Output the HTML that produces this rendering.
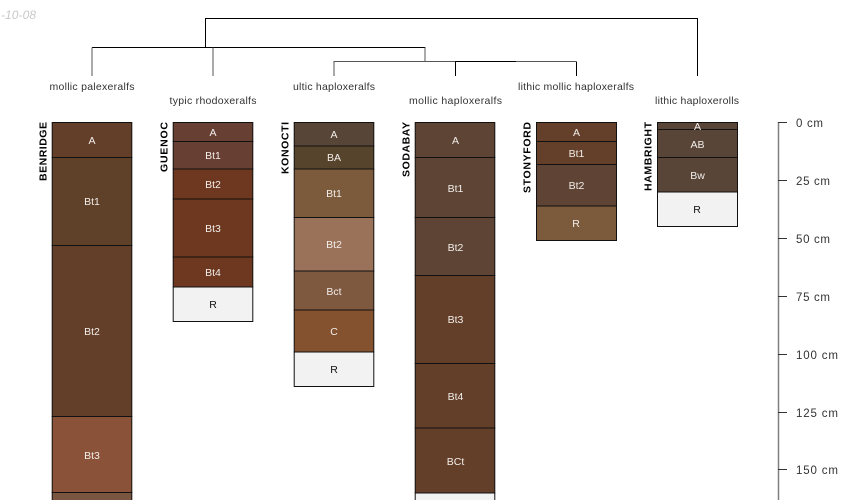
<!DOCTYPE html>
<html><head><meta charset="utf-8"><style>
html,body{margin:0;padding:0;background:#fff;width:850px;height:500px;overflow:hidden}
svg{display:block;font-family:"Liberation Sans",sans-serif}
.h{stroke:#111;stroke-width:1}
.h text{stroke:none}
.t{font-size:10.5px;fill:#f2eeea;text-anchor:middle;stroke:none}
.k{font-size:10.5px;fill:#111;text-anchor:middle;stroke:none}
.l{font-size:10.5px;fill:#333;text-anchor:middle}
.id{font-size:10.5px;font-weight:bold;fill:#000;text-anchor:end}
.s{font-size:11.5px;fill:#333}
.d{stroke:#000;stroke-width:1;fill:none}
.g{stroke:#555;stroke-width:1;fill:none}
</style></head><body>
<svg width="850" height="500" viewBox="0 0 850 500" xmlns="http://www.w3.org/2000/svg">
<text x="36" y="19" text-anchor="end" font-size="12" font-style="italic" fill="#c8c8c8" textLength="62">2021-10-08</text>

<!-- dendrogram -->
<path class="d" d="M205.5 47.5V18.5H697.5V76"/>
<path class="d" d="M92 47.5H425.5"/>
<path class="g" d="M92 47.5V76M213 47.5V76"/>
<path class="g" d="M425 47.5V61.5M334 76V61.5H576"/>
<path class="d" d="M455.5 61.5H516M455.5 61.5V76M576.5 61.5V76"/>

<text class="l" x="92" y="90" textLength="85" lengthAdjust="spacing">mollic palexeralfs</text>
<text class="l" x="213" y="104" textLength="87" lengthAdjust="spacing">typic rhodoxeralfs</text>
<text class="l" x="334" y="90" textLength="82" lengthAdjust="spacing">ultic haploxeralfs</text>
<text class="l" x="455.5" y="104" textLength="93" lengthAdjust="spacing">mollic haploxeralfs</text>
<text class="l" x="576" y="90" textLength="116" lengthAdjust="spacing">lithic mollic haploxeralfs</text>
<text class="l" x="697" y="104" textLength="84" lengthAdjust="spacing">lithic haploxerolls</text>

<!-- BENRIDGE -->
<text class="id" transform="translate(46.5,122) rotate(-90)" textLength="59">BENRIDGE</text>
<g class="h">
<rect x="52.2" y="122.5" width="79.6" height="35" fill="#633f29"/><rect x="52.2" y="157.5" width="79.6" height="88" fill="#5f4029"/>
<rect x="52.2" y="245.5" width="79.6" height="171" fill="#633f29"/><rect x="52.2" y="416.5" width="79.6" height="76" fill="#8a5239"/>
<rect x="52.2" y="492.5" width="79.6" height="20" fill="#7a5640"/>
<text class="t" x="92" y="144">A</text><text class="t" x="92" y="205">Bt1</text><text class="t" x="92" y="335">Bt2</text><text class="t" x="92" y="459">Bt3</text>
</g>

<!-- GUENOC -->
<text class="id" transform="translate(167.5,122) rotate(-90)" textLength="50">GUENOC</text>
<g class="h">
<rect x="173.2" y="122.5" width="79.6" height="19" fill="#683f33"/><rect x="173.2" y="141.5" width="79.6" height="27.5" fill="#683f33"/>
<rect x="173.2" y="169" width="79.6" height="30" fill="#6e3820"/><rect x="173.2" y="199" width="79.6" height="58" fill="#6e3820"/>
<rect x="173.2" y="257" width="79.6" height="30" fill="#6e3820"/><rect x="173.2" y="287" width="79.6" height="34.5" fill="#f2f2f2"/>
<text class="t" x="213" y="136">A</text><text class="t" x="213" y="159">Bt1</text><text class="t" x="213" y="188">Bt2</text><text class="t" x="213" y="232">Bt3</text><text class="t" x="213" y="276">Bt4</text><text class="k" x="213" y="308">R</text>
</g>

<!-- KONOCTI -->
<text class="id" transform="translate(288.5,122) rotate(-90)" textLength="52">KONOCTI</text>
<g class="h">
<rect x="294.2" y="122.5" width="79.6" height="23.5" fill="#574537"/><rect x="294.2" y="146" width="79.6" height="23" fill="#57442c"/>
<rect x="294.2" y="169" width="79.6" height="48.5" fill="#7c5a3c"/><rect x="294.2" y="217.5" width="79.6" height="53.5" fill="#9a725a"/>
<rect x="294.2" y="271" width="79.6" height="39" fill="#7f5840"/><rect x="294.2" y="310" width="79.6" height="42" fill="#855230"/>
<rect x="294.2" y="352" width="79.6" height="34.5" fill="#f2f2f2"/>
<text class="t" x="334" y="138">A</text><text class="t" x="334" y="161">BA</text><text class="t" x="334" y="197">Bt1</text><text class="t" x="334" y="248">Bt2</text><text class="t" x="334" y="295">Bct</text><text class="t" x="334" y="335">C</text><text class="k" x="334" y="373">R</text>
</g>

<!-- SODABAY -->
<text class="id" transform="translate(409.5,122) rotate(-90)" textLength="55">SODABAY</text>
<g class="h">
<rect x="415.2" y="122.5" width="79.6" height="35" fill="#5e4435"/><rect x="415.2" y="157.5" width="79.6" height="60" fill="#5e4435"/>
<rect x="415.2" y="217.5" width="79.6" height="58" fill="#5e4435"/><rect x="415.2" y="275.5" width="79.6" height="88" fill="#633f29"/>
<rect x="415.2" y="363.5" width="79.6" height="64.5" fill="#633f29"/><rect x="415.2" y="428" width="79.6" height="65" fill="#633f29"/>
<rect x="415.2" y="493" width="79.6" height="20" fill="#f2f2f2"/>
<text class="t" x="455.5" y="144">A</text><text class="t" x="455.5" y="192">Bt1</text><text class="t" x="455.5" y="251">Bt2</text><text class="t" x="455.5" y="323">Bt3</text><text class="t" x="455.5" y="400">Bt4</text><text class="t" x="455.5" y="465">BCt</text>
</g>

<!-- STONYFORD -->
<text class="id" transform="translate(530.5,122) rotate(-90)" textLength="71">STONYFORD</text>
<g class="h">
<rect x="536.5" y="122.5" width="80" height="19" fill="#643f29"/><rect x="536.5" y="141.5" width="80" height="23" fill="#643f29"/>
<rect x="536.5" y="164.5" width="80" height="41.5" fill="#5f4334"/><rect x="536.5" y="206" width="80" height="34.5" fill="#7c5a3c"/>
<text class="t" x="576.5" y="136">A</text><text class="t" x="576.5" y="157">Bt1</text><text class="t" x="576.5" y="189">Bt2</text><text class="t" x="576" y="227" fill="#fff">R</text>
</g>

<!-- HAMBRIGHT -->
<text class="id" transform="translate(651.5,122) rotate(-90)" textLength="69">HAMBRIGHT</text>
<g class="h">
<rect x="657.5" y="122.5" width="80" height="7" fill="#584538"/><rect x="657.5" y="129.5" width="80" height="28" fill="#584538"/>
<rect x="657.5" y="157.5" width="80" height="34.5" fill="#584538"/><rect x="657.5" y="192" width="80" height="34.5" fill="#f2f2f2"/>
<text class="t" x="697.5" y="130">A</text><text class="t" x="697.5" y="148">AB</text><text class="t" x="697.5" y="179">Bw</text><text class="k" x="697" y="213">R</text>
</g>

<!-- scale -->
<path d="M778.5 500V122" stroke="#808080" stroke-width="1.5" fill="none"/>
<path d="M778 122.5H787M778 180.5H787M778 238.5H787M778 296.5H787M778 354.5H787M778 412.5H787M778 469.5H787" stroke="#333" stroke-width="1" fill="none"/>
<text class="s" x="796" y="127" textLength="27">0 cm</text>
<text class="s" x="796" y="185" textLength="34">25 cm</text>
<text class="s" x="796" y="243" textLength="34">50 cm</text>
<text class="s" x="796" y="301" textLength="34">75 cm</text>
<text class="s" x="796" y="359" textLength="42">100 cm</text>
<text class="s" x="796" y="417" textLength="42">125 cm</text>
<text class="s" x="796" y="474" textLength="42">150 cm</text>
</svg>
</body></html>
